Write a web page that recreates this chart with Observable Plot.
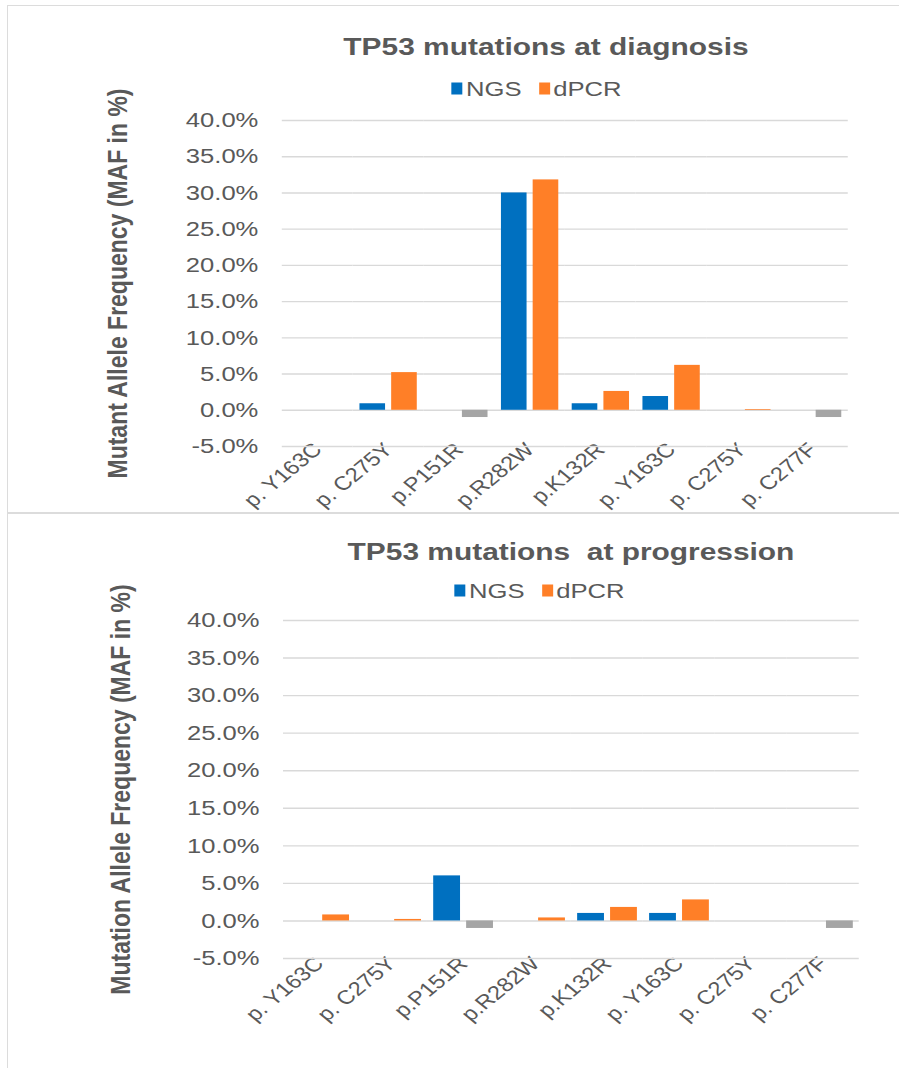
<!DOCTYPE html>
<html>
<head>
<meta charset="utf-8">
<script src="https://cdn.jsdelivr.net/npm/d3@7"></script>
<script src="https://cdn.jsdelivr.net/npm/@observablehq/plot@0.6"></script>
<style>
  html, body { margin: 0; padding: 0; background: #fff; }
  #root { position: relative; width: 899px; height: 1068px; overflow: hidden; font-family: "Liberation Sans", Arial, sans-serif; color: #595959; }
  .box { position: absolute; border: 1.5px solid #dcdcdc; box-sizing: border-box; }
  .title { position: absolute; white-space: pre; font-weight: bold; font-size: 24.5px; line-height: 1; transform: translate(-50%, -50%) scaleX(1.22); }
  .legend { position: absolute; white-space: pre; font-size: 21px; line-height: 1; transform: translate(-50%, -50%) scaleX(1.22); display: flex; align-items: center; }
  .sw { display: inline-block; width: 9px; height: 12px; margin-right: 3px; }
  .item { display: flex; align-items: center; margin-right: 14px; }
  .plot { position: absolute; left: 0; overflow: visible; }
</style>
</head>
<body>
<div id="root"></div>
<script>
// ---------- data ----------
const categories = ["p. Y163C", "p. C275Y", "p.P151R", "p.R282W", "p.K132R", "p. Y163C", "p. C275Y", "p. C277F"];
const seriesNames = ["NGS", "dPCR"];
const diagnosisNGS  = [0, 0.9, 0, 30.0, 0.9, 1.9, 0, 0];
const diagnosisDPCR = [0, 5.2, -1.0, 31.8, 2.6, 6.2, 0.1, -1.0];
const progressionNGS  = [0, 0, 6.0, 0, 1.0, 1.0, 0, 0];
const progressionDPCR = [0.8, 0.2, -1.0, 0.4, 1.8, 2.8, 0, -1.0];
const yTicks = [-5, 0, 5, 10, 15, 20, 25, 30, 35, 40];
const titles = ["TP53 mutations at diagnosis", "TP53 mutations  at progression"];
const yLabels = ["Mutant Allele Frequency (MAF in %)", "Mutation Allele Frequency (MAF in %)"];

const colors = { NGS: "#0070C0", dPCR: "#FF7F27" };
const negColor = "#A5A5A5";
const K = 1.22;            // horizontal stretch of the original picture
const W = Math.round(899 / K);

const root = document.getElementById("root");

function addBox(l, t, w, h) {
  const d = document.createElement("div");
  d.className = "box";
  Object.assign(d.style, { left: l + "px", top: t + "px", width: w + "px", height: h + "px" });
  root.appendChild(d);
}
function addTitle(text, cx, cy) {
  const d = document.createElement("div");
  d.className = "title";
  d.textContent = text;
  Object.assign(d.style, { left: cx + "px", top: cy + "px" });
  root.appendChild(d);
}
function addLegend(cx, cy) {
  const d = document.createElement("div");
  d.className = "legend";
  Object.assign(d.style, { left: cx + "px", top: cy + "px" });
  seriesNames.forEach(s => {
    const it = document.createElement("span");
    it.className = "item";
    const sw = document.createElement("span");
    sw.className = "sw";
    sw.style.background = colors[s];
    it.appendChild(sw);
    it.appendChild(document.createTextNode(s));
    d.appendChild(it);
  });
  root.appendChild(d);
}

function panel(ngs, dpcr, yLabel, o) {
  const data = [];
  categories.forEach((c, i) => {
    data.push({ cat: i, series: "NGS", value: ngs[i] });
    data.push({ cat: i, series: "dPCR", value: dpcr[i] });
  });
  const svg = Plot.plot({
    width: W,
    height: o.height,
    marginLeft: o.left / K,
    marginRight: o.right / K,
    marginTop: o.top,
    marginBottom: o.bottom,
    style: { fontFamily: "'Liberation Sans', Arial, sans-serif", color: "#595959", background: "transparent", fontSize: "20px", overflow: "visible" },
    fx: { domain: d3.range(categories.length), padding: 0, axis: "bottom", tickFormat: i => categories[i], tickRotate: -45, tickSize: 0, tickPadding: o.xPad, label: null },
    x: { domain: seriesNames, axis: null, paddingInner: 0.19, paddingOuter: 0.17 },
    y: { domain: [-5, 40], ticks: yTicks, tickFormat: d => d.toFixed(1) + "%", tickSize: 0, tickPadding: 24 / K,
         label: yLabel, labelAnchor: "center", labelOffset: o.labelOffset, labelArrow: "none" },
    marks: [
      Plot.ruleY(yTicks, { stroke: "#d9d9d9", strokeWidth: 1.4 }),
      Plot.barY(data, { fx: "cat", x: "series", y: "value", fill: d => d.value < 0 ? negColor : colors[d.series] })
    ]
  });
  svg.setAttribute("width", 899);
  svg.setAttribute("preserveAspectRatio", "none");
  svg.classList.add("plot");
  svg.style.top = o.y + "px";
  svg.style.overflow = "visible";
  // font tweaks
  const s = d3.select(svg);
  s.selectAll('g[aria-label^="y-axis"] text').attr("font-size", 21);
  s.selectAll('g[aria-label^="fx-axis"] text').attr("font-size", 19.5);
  s.selectAll('g[aria-label="y-axis label"] text, g[aria-label="y-axis"] > text').attr("font-size", 23).attr("font-weight", "bold");
  root.appendChild(svg);
  return svg;
}

addBox(7, 5, 893, 509);
addBox(7, 512, 893, 560);

addTitle(titles[0], 546, 47);
addLegend(545, 88);
panel(diagnosisNGS, diagnosisDPCR, yLabels[0], { y: 100, height: 412, top: 20, bottom: 66, left: 281, right: 50, labelOffset: 144, xPad: 0 });

addTitle(titles[1], 571, 552);
addLegend(548, 590);
panel(progressionNGS, progressionDPCR, yLabels[1], { y: 600, height: 468, top: 20, bottom: 110, left: 278, right: 36, labelOffset: 142, xPad: 2 });
</script>
</body>
</html>
